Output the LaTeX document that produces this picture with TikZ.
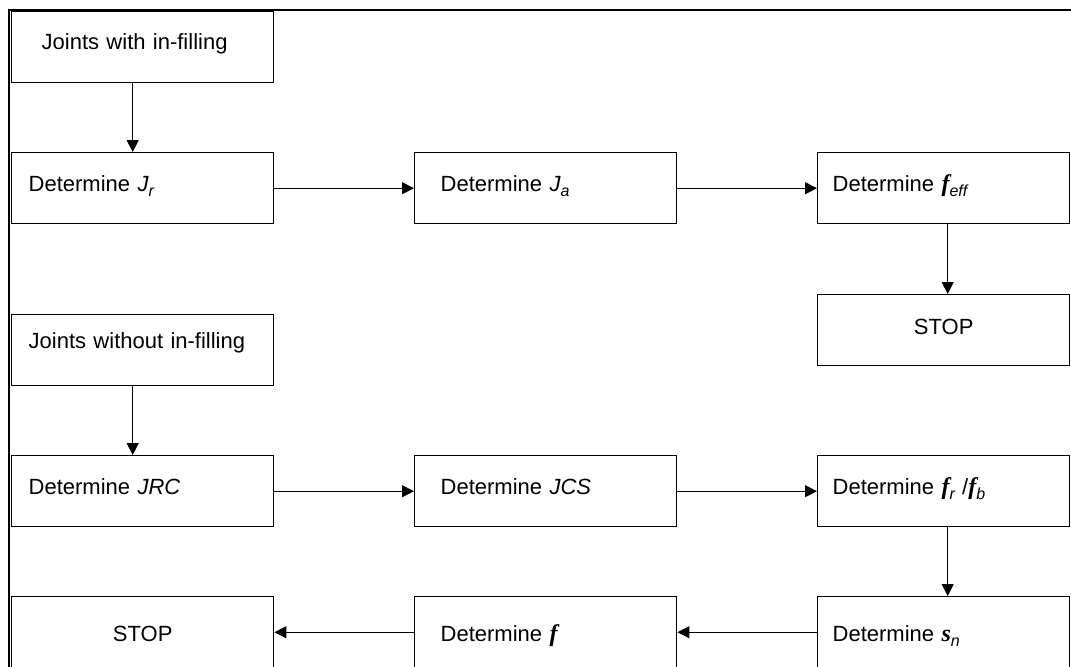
\documentclass[tikz,border=0pt]{standalone}
\usepackage{fontspec}
\setmainfont{Liberation Sans}
\newfontfamily\symserif{Liberation Serif}
\usepackage{tikz}
\usetikzlibrary{arrows.meta}

\newcommand{\lowsub}[1]{\raisebox{-0.45ex}{\fontsize{8}{9}\selectfont\itshape #1}}
\newcommand{\gsym}[1]{{\symserif\fontsize{12}{14}\selectfont\bfseries\itshape #1}}

\begin{document}
\begin{tikzpicture}[
  x = 0.5pt, y = -0.5pt,
  font = \fontsize{11}{13}\selectfont,
  box/.style   = {draw, line width=0.7pt, anchor=north west,
                  minimum width=131pt, minimum height=35.5pt,
                  inner ysep=0pt, align=left,
                  text height=8pt, text depth=4.8pt},
  colA/.style  = {box, inner xsep=8.5pt, text width=114pt},
  colB/.style  = {box, inner xsep=13pt, text width=105pt},
  colC/.style  = {box, minimum width=126pt, inner xsep=7.5pt,
                  text width=111pt},
  arrow/.style = {-{Triangle[length=6pt,width=6pt]}, line width=0.6pt}
]
  \useasboundingbox (0,0) rectangle (1071,666);

  % outer frame
  \draw[line width=1pt] (9,690) -- (9,9.5) -- (1090,9.5);

  % Upper chain: joints with in-filling
  \node[colA, inner xsep=15pt, text width=101pt, text depth=6.2pt]
        (join1) at (11,11)   {Joints with in-filling};
  \node[colA] (jr)    at (11,152)  {Determine \textit{J}\lowsub{r}};
  \node[colB] (ja)    at (414,152) {Determine \textit{J}\lowsub{a}};
  \node[colC] (feff)  at (817,152) {Determine \gsym{f}\lowsub{eff}};
  \node[colC, align=center, text depth=3.5pt]
        (stop1) at (817,294) {STOP};

  % Lower chain: joints without in-filling
  \node[colA, text depth=10pt]
        (join2) at (11,314)  {Joints without in-filling};
  \node[colA] (jrc)   at (11,455)  {Determine \textit{JRC}};
  \node[colB] (jcs)   at (414,455) {Determine \textit{JCS}};
  \node[colC] (frfb)  at (817,455) {Determine \gsym{f}\lowsub{r} /\gsym{f}\lowsub{b}};
  \node[colC, text height=11pt, text depth=1.5pt]
        (sn)    at (817,596) {Determine \gsym{s}\lowsub{n}};
  \node[colB, text height=11pt, text depth=1.5pt]
        (phi)   at (414,596) {Determine \gsym{f}};
  \node[colA, align=center, text height=11pt, text depth=1.5pt]
        (stop2) at (11,596)  {STOP};

  % connectors
  \draw[arrow] ([xshift=-5pt]join1.south) -- ([xshift=-5pt]jr.north);
  \draw[arrow] (jr)   -- (ja);
  \draw[arrow] (ja)   -- (feff);
  \draw[arrow] ([xshift=2pt]feff.south) -- ([xshift=2pt]stop1.north);

  \draw[arrow] ([xshift=-5pt]join2.south) -- ([xshift=-5pt]jrc.north);
  \draw[arrow] (jrc)  -- (jcs);
  \draw[arrow] (jcs)  -- (frfb);
  \draw[arrow] ([xshift=2pt]frfb.south) -- ([xshift=2pt]sn.north);
  \draw[arrow] (sn)   -- (phi);
  \draw[arrow] (phi)  -- (stop2);
\end{tikzpicture}
\end{document}
